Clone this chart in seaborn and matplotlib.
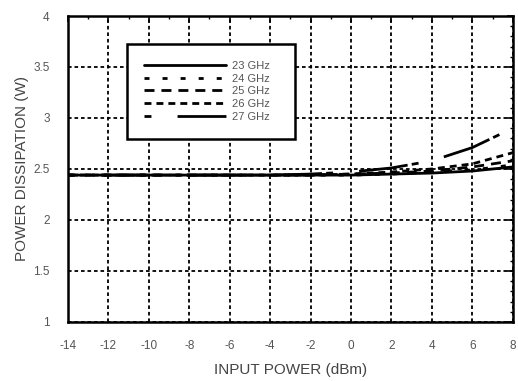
import numpy as np
import pandas as pd
import matplotlib
matplotlib.use("Agg")
import matplotlib.pyplot as plt
from matplotlib.ticker import MultipleLocator
import seaborn as sns

input_power = [-14, -12, -10, -8, -6, -4, -2, 0, 2, 4, 6, 8]
p_23 = [2.44, 2.44, 2.44, 2.44, 2.44, 2.44, 2.44, 2.44, 2.45, 2.46, 2.48, 2.52]
p_24 = [2.44, 2.44, 2.44, 2.44, 2.44, 2.44, 2.44, 2.44, 2.45, 2.47, 2.49, 2.54]
p_25 = [2.44, 2.44, 2.44, 2.44, 2.44, 2.44, 2.44, 2.45, 2.46, 2.48, 2.52, 2.58]
p_26 = [2.44, 2.44, 2.44, 2.44, 2.44, 2.44, 2.44, 2.45, 2.47, 2.50, 2.55, 2.66]
p_27 = [2.44, 2.44, 2.44, 2.44, 2.44, 2.44, 2.45, 2.47, 2.51, 2.58, 2.71, 2.90]
labels = ["23 GHz", "24 GHz", "25 GHz", "26 GHz", "27 GHz"]

series = [p_23, p_24, p_25, p_26, p_27]
df = pd.concat(
    [pd.DataFrame({"x": input_power, "y": s, "freq": lab}) for s, lab in zip(series, labels)],
    ignore_index=True,
)

sns.set_theme(style="white")
plt.rcParams["font.family"] = ["Liberation Sans", "DejaVu Sans"]
plt.rcParams["axes.unicode_minus"] = False

fig = plt.figure(figsize=(5.18, 3.81), dpi=100)
ax = fig.add_axes([0.131, 0.155, 0.859, 0.803])

dash_styles = {
    "23 GHz": "",
    "24 GHz": (1.8, 4.7),
    "25 GHz": (3.6, 2.5),
    "26 GHz": (2.5, 1.8),
    "27 GHz": (2.5, 9.4, 17.6, 1.5),
}
sns.lineplot(data=df, x="x", y="y", hue="freq", style="freq",
             palette=["black"] * 5, dashes=dash_styles, linewidth=2.0, ax=ax)

ax.set_xlim(-14, 8)
ax.set_ylim(1, 4)
ax.xaxis.set_major_locator(MultipleLocator(2))
ax.xaxis.set_minor_locator(MultipleLocator(1))
ax.yaxis.set_minor_locator(MultipleLocator(0.1))
ax.set_yticks([1, 1.5, 2, 2.5, 3, 3.5, 4])
ax.set_yticklabels(["1", "1.5", "2", "2.5", "3", "3.5", "4"])

ax.grid(True, which="major", color="black", linestyle=(0, (2, 1.6)), linewidth=1.3)
ax.tick_params(which="both", direction="in", top=True, right=True, color="black")
ax.tick_params(which="major", length=4, width=1.2, labelsize=8.5, labelcolor="#555555", pad=13)
ax.tick_params(which="minor", length=2, width=1)
for sp in ax.spines.values():
    sp.set_color("black")
    sp.set_linewidth(1.8)

ax.set_xlabel("INPUT POWER (dBm)", fontsize=11, color="#444444", labelpad=8)
ax.set_ylabel("POWER DISSIPATION (W)", fontsize=11, color="#444444", labelpad=3)

leg = ax.legend(loc="upper left", bbox_to_anchor=(0.1326, 0.594, 0.3775, 0.314),
                mode="expand", handlelength=7.4, fontsize=8, frameon=True,
                fancybox=False, borderpad=1.5, labelspacing=0.25,
                handletextpad=0.6, borderaxespad=0)
leg.get_frame().set_edgecolor("black")
leg.get_frame().set_linewidth(1.8)
leg.get_frame().set_alpha(1)
for t in leg.get_texts():
    t.set_color("#555555")

fig.savefig("out.png", dpi=100)
